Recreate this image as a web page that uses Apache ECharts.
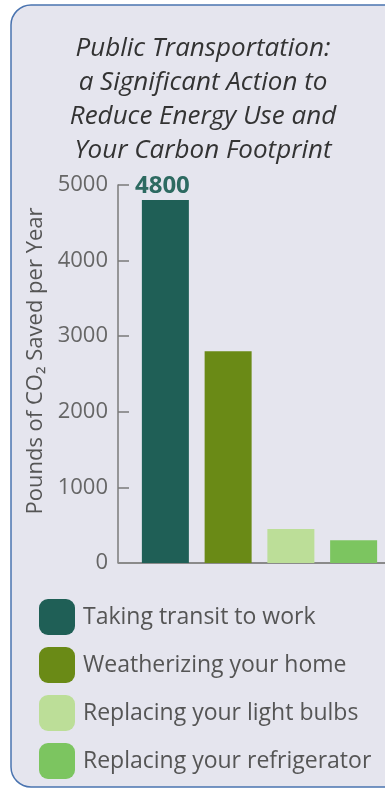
<!DOCTYPE html>
<html>
<head>
<meta charset="utf-8">
<script src="https://cdn.jsdelivr.net/npm/echarts@6/dist/echarts.min.js"></script>
<style>
  html, body { margin: 0; padding: 0; background: #ffffff; }
  #chart { width: 385px; height: 792px; }
</style>
</head>
<body>
<div id="chart"></div>
<script>
// data
var actions = ['Taking transit to work', 'Weatherizing your home', 'Replacing your light bulbs', 'Replacing your refrigerator'];
var savings = [4800, 2800, 450, 300];
var barColors = ['#1f5f56', '#6a8a16', '#bcde98', '#7cc560'];
var yTicks = [0, 1000, 2000, 3000, 4000, 5000];

var font = '"Open Sans", "Noto Sans", sans-serif';

// one series per action so every bar gets its own legend entry
var series = actions.map(function (name, i) {
  var values = actions.map(function (a, j) { return j === i ? savings[i] : '-'; });
  return {
    name: name,
    type: 'bar',
    data: values,
    barWidth: 47,
    barGap: '-100%',
    itemStyle: { color: barColors[i] },
    label: {
      show: i === 0,
      position: 'top',
      distance: 2,
      offset: [-3, 0],
      fontFamily: font,
      fontSize: 24,
      fontWeight: 'bold',
      color: '#2d6a61'
    }
  };
});

var chart = echarts.init(document.getElementById('chart'));
chart.setOption({
  animation: false,
  textStyle: { fontFamily: font },
  graphic: [
    {
      type: 'rect',
      z: -10,
      shape: { x: 11, y: 5, width: 392, height: 782, r: 20 },
      style: { fill: '#e5e5ee', stroke: '#4a74b0', lineWidth: 1.5 }
    },
    {
      // short piece of the baseline left of the first band
      type: 'line',
      z: 5,
      shape: { x1: 118, y1: 563, x2: 134, y2: 563 },
      style: { stroke: '#8a8a8a', lineWidth: 2 }
    }
  ],
  title: {
    text: 'Public Transportation:\na Significant Action to\nReduce Energy Use and\nYour Carbon Footprint',
    left: 198,
    top: 27,
    textAlign: 'center',
    textStyle: {
      fontFamily: font,
      fontStyle: 'italic',
      fontWeight: 'normal',
      fontSize: 26,
      lineHeight: 34,
      color: '#333333'
    }
  },
  legend: {
    orient: 'vertical',
    left: 34,
    top: 594,
    itemWidth: 36,
    itemHeight: 36,
    itemGap: 12,
    icon: 'roundRect',
    selectedMode: false,
    data: actions,
    textStyle: {
      fontFamily: font,
      fontSize: 23,
      color: '#555555',
      padding: [0, 0, 0, 3]
    }
  },
  grid: { left: 134, right: -6, top: 185, bottom: 229, containLabel: false },
  xAxis: {
    type: 'category',
    data: actions,
    axisLine: { lineStyle: { color: '#8a8a8a', width: 2 } },
    axisTick: { show: false },
    axisLabel: { show: false }
  },
  yAxis: {
    type: 'value',
    min: yTicks[0],
    max: yTicks[yTicks.length - 1],
    interval: 1000,
    offset: 16,
    name: 'Pounds of CO₂ Saved per Year',
    nameLocation: 'middle',
    nameGap: 64,
    nameTextStyle: { fontFamily: font, fontSize: 22, color: '#555555', padding: [0, 0, 0, 26] },
    axisLine: { show: true, lineStyle: { color: '#7a7a7a', width: 1.5 } },
    axisTick: { show: true, inside: true, length: 11, lineStyle: { color: '#7a7a7a', width: 1.5 } },
    axisLabel: {
      fontFamily: font,
      fontSize: 22,
      color: '#666666',
      margin: 10,
      formatter: function (v) { return String(v); }
    },
    splitLine: { show: false }
  },
  series: series
});
</script>
</body>
</html>
